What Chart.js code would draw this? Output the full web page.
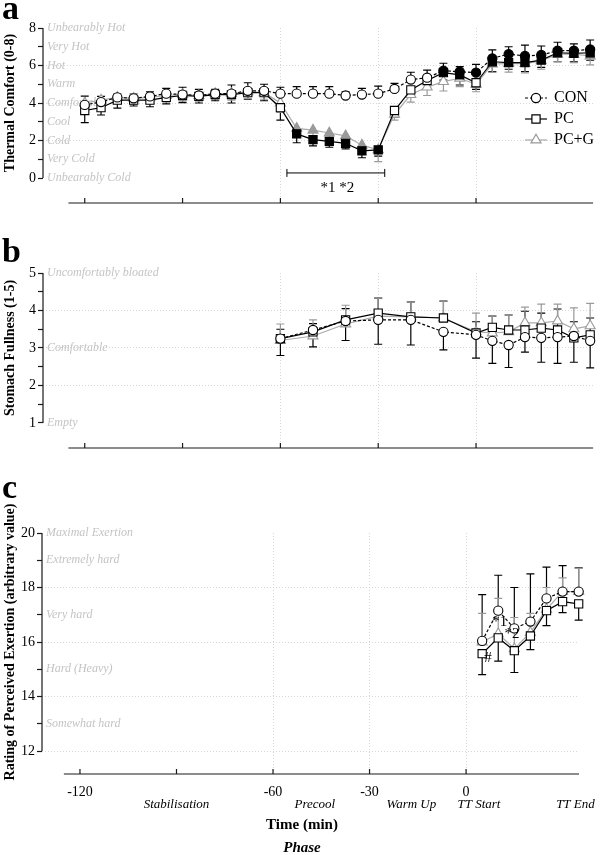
<!DOCTYPE html>
<html>
<head>
<meta charset="utf-8">
<script src="https://cdn.jsdelivr.net/npm/chart.js@4.4.1/dist/chart.umd.min.js"></script>
<style>
  body { margin: 0; background: #fff; }
  #wrap { position: relative; width: 600px; height: 855px; }
  canvas { position: absolute; left: 0; }
</style>
</head>
<body>
<div id="wrap">
  <canvas id="chartA" width="600" height="230" style="top:0px"></canvas>
  <canvas id="chartB" width="600" height="240" style="top:230px"></canvas>
  <canvas id="chartC" width="600" height="385" style="top:470px"></canvas>
</div>
<script>
'use strict';
// data (time in min, relative to TT start)

const seriesNames = ['CON', 'PC', 'PC+G'];

// a) thermal comfort
const timeA = [-120,-115,-110,-105,-100,-95,-90,-85,-80,-75,-70,-65,-60,-55,-50,-45,-40,-35,-30,-25,-20,-15,-10,-5,0,5,10,15,20,25,30,35];
const conComfort = [3.9,4.05,4.3,4.25,4.35,4.5,4.45,4.4,4.5,4.5,4.65,4.65,4.5, 4.5,4.5,4.5,4.4,4.45,4.5,4.75,5.25,5.35,5.72,5.67,5.62, 6.38,6.61,6.51,6.56,6.79,6.79,6.86];
const conComfortSD = [0.47,0.3,0.18,0.23,0.25,0.28,0.39,0.33,0.23,0.46,0.43,0.35,0.34, 0.37,0.37,0.37,0.2,0.33,0.4,0.3,0.39,0.4,0.4,0.27,0.44, 0.45,0.39,0.58,0.48,0.45,0.36,0.5];
const pcComfort = [3.6,3.75,4.15,4.15,4.15,4.3,4.4,4.35,4.45,4.45,4.55,4.55,3.75, 2.35,2.05,1.95,1.85,1.45,1.5,3.6,4.7,5.2,5.62,5.5,5.08, 6.2,6.15,6.15,6.29,6.68,6.65,6.68];
const pcComfortSD = [0.65,0.39,0.42,0.31,0.35,0.35,0.38,0.35,0.33,0.45,0.35,0.43,0.66, 0.47,0.34,0.31,0.3,0.37,0.33,0.36,0.4,0.4,0.4,0.54,0.35, 0.53,0.35,0.48,0.39,0.48,0.45,0.4];
const pcgComfort = [4.0,4.15,4.3,4.25,4.3,4.4,4.45,4.4,4.5,4.5,4.6,4.55,4.0, 2.65,2.55,2.4,2.25,1.75,1.5,3.4,4.45,4.85,5.14,5.32,5.0, 6.08,6.1,6.1,6.25,6.6,6.6,6.51];
const pcgComfortSD = [0.4,0.35,0.3,0.3,0.3,0.35,0.35,0.3,0.3,0.35,0.35,0.35,0.5, 0.4,0.35,0.35,0.35,0.45,0.63,0.31,0.4,0.45,0.5,0.45,0.4, 0.45,0.45,0.5,0.45,0.4,0.45,0.48];
// 1 = significant (filled marker)
const conComfortSig = [0,0,0,0,0,0,0,0,0,0,0,0,0, 0,0,0,0,0,0,0,0,0,1,1,1, 1,1,1,1,1,1,1];
const pcComfortSig  = [0,0,0,0,0,0,0,0,0,0,0,0,0, 1,1,1,1,1,1,0,0,0,1,1,0, 1,1,1,1,1,1,1];
const pcgComfortSig = [0,0,0,0,0,0,0,0,0,0,0,0,0, 1,1,1,1,1,1,0,0,0,0,0,0, 1,1,1,1,1,1,1];
const comfortTicks = [0,1,2,3,4,5,6,7,8];
const comfortWords = ['Unbearably Cold','Very Cold','Cold','Cool','Comfortable','Warm','Hot','Very Hot','Unbearably Hot'];

// b) stomach fullness
const timeB = [-60,-50,-40,-30,-20,-10,0,5,10,15,20,25,30,35];
const conFull = [3.25,3.48,3.72,3.75,3.75,3.43,3.35,3.19,3.08,3.29,3.27,3.29,3.32,3.19];
const conFullSD = [0.45,0.45,0.52,0.65,0.67,0.48,0.62,0.6,0.6,0.4,0.65,0.7,0.7,0.72];
const pcFull = [3.25,3.43,3.75,3.93,3.83,3.8,3.4,3.55,3.48,3.48,3.53,3.48,3.27,3.35];
const pcFullSD = [0.25,0.22,0.3,0.4,0.4,0.45,0.3,0.3,0.4,0.5,0.4,0.56,0.43,0.45];
const pcgFull = [3.2,3.32,3.64,3.85,3.83,3.8,3.43,3.4,3.43,3.67,3.67,3.72,3.51,3.59];
const pcgFullSD = [0.44,0.43,0.5,0.48,0.4,0.45,0.5,0.45,0.45,0.42,0.5,0.45,0.56,0.6];
const fullTicks = [1,1.5,2,2.5,3,3.5,4,4.5,5];
const fullWordVals = [1,3,5];
const fullWords = ['Empty','Comfortable','Uncomfortably bloated'];

// c) RPE
const timeC = [5,10,15,20,25,30,35];
const conRpe = [16.04,17.15,16.5,16.75,17.6,17.85,17.85];
const conRpeSD = [1.7,1.3,1.5,1.75,1.15,0.95,0.87];
const pcRpe = [15.57,16.15,15.68,16.22,17.15,17.48,17.4];
const pcRpeSD = [0.77,0.85,0.8,0.5,0.55,0.4,0.6];
const pcgRpe = [16.0,16.3,15.75,16.35,17.2,17.85,17.85];
const pcgRpeSD = [1.05,1.3,1.15,0.7,0.8,0.5,0.85];
const rpeTicks = [12,13,14,15,16,17,18,19,20];
const rpeWordVals = [13,15,17,19,20];
const rpeWords = ['Somewhat hard','Hard (Heavy)','Very hard','Extremely hard','Maximal Exertion'];

// shared time axis
const timeTicks = [-120,-90,-60,-30,0];
const timeTickText = ['-120','','-60','-30','0'];
const timeGrid = [-60,-30,0];
const phaseNames = ['Stabilisation','Precool','Warm Up','TT Start','TT End'];
const phaseAt = [-90,-47,-17,4,34];

const serif = '"Liberation Serif", "DejaVu Serif", serif';
const greyLine = '#a9a9a9';
const greyMark = '#9a9a9a';
const gridCol = '#d6d6d6';
const clear = 'rgba(0,0,0,0)';

function pts(xs, ys) {
  return xs.map((x, i) => ({ x: x, y: ys[i] }));
}

function makeSets(xs, vals, sds, dirs, sig) {
  sig = sig || [null, null, null];
  const looks = [
    { col: '#000', mark: '#000', style: 'circle', r: 4.6, dash: [3, 2], on: '#000' },
    { col: '#000', mark: '#000', style: 'rect', r: 5.8, dash: [], on: '#000' },
    { col: greyLine, mark: greyMark, style: 'triangle', r: 5.8, dash: [], on: greyMark }
  ];
  return looks.map((lk, k) => ({
    label: seriesNames[k],
    data: pts(xs, vals[k]),
    borderColor: lk.col,
    borderWidth: 1.2,
    borderDash: lk.dash,
    pointStyle: lk.style,
    pointRadius: lk.r,
    pointBorderColor: lk.mark,
    pointBorderWidth: 1.1,
    pointBackgroundColor: sig[k] ? sig[k].map(f => f ? lk.on : '#fff') : '#fff',
    clip: false,
    err: sds[k],
    errDir: dirs[k],
    errColor: k === 2 ? greyMark : '#000'
  }));
}

function drawMark(ctx, style, x, y, r) {
  ctx.beginPath();
  if (style === 'circle') {
    ctx.arc(x, y, r, 0, Math.PI * 2);
  } else if (style === 'rect') {
    const h = r * Math.SQRT1_2;
    ctx.rect(x - h, y - h, 2 * h, 2 * h);
  } else {
    ctx.moveTo(x, y - r);
    ctx.lineTo(x + r * 0.866, y + r * 0.5);
    ctx.lineTo(x - r * 0.866, y + r * 0.5);
    ctx.closePath();
  }
  ctx.fill();
  ctx.stroke();
}

const decor = {
  id: 'decor',
  beforeDatasetsDraw(chart, args, o) {
    const ctx = chart.ctx, y = chart.scales.y, area = chart.chartArea;
    ctx.save();
    ctx.font = 'italic 12px ' + serif;
    ctx.fillStyle = '#c4c4c4';
    ctx.textAlign = 'left';
    ctx.textBaseline = 'middle';
    o.wordVals.forEach((v, i) => ctx.fillText(o.words[i], area.left + 4, y.getPixelForValue(v)));

    chart.data.datasets.forEach((ds, i) => {
      const meta = chart.getDatasetMeta(i);
      ctx.strokeStyle = ds.errColor;
      ctx.lineWidth = 1.2;
      meta.data.forEach((p, j) => {
        const end = y.getPixelForValue(ds.data[j].y + ds.errDir * ds.err[j]);
        ctx.beginPath();
        ctx.moveTo(p.x, p.y);
        ctx.lineTo(p.x, end);
        ctx.moveTo(p.x - 4, end);
        ctx.lineTo(p.x + 4, end);
        ctx.stroke();
      });
    });
    ctx.restore();
  },
  afterDraw(chart, args, o) {
    const ctx = chart.ctx, x = chart.scales.x, y = chart.scales.y, area = chart.chartArea;
    ctx.save();
    ctx.strokeStyle = '#1a1a1a';
    ctx.lineWidth = 1.2;
    ctx.beginPath();
    ctx.moveTo(area.left, y.getPixelForValue(o.yRange[1]));
    ctx.lineTo(area.left, y.getPixelForValue(o.yRange[0]));
    ctx.moveTo(x.getPixelForValue(o.xStart), area.bottom);
    ctx.lineTo(area.right, area.bottom);
    timeTicks.forEach(t => {
      const px = x.getPixelForValue(t);
      ctx.moveTo(px, area.bottom);
      ctx.lineTo(px, area.bottom - 5);
    });
    ctx.stroke();

    // panel letter
    ctx.fillStyle = '#000';
    ctx.font = 'bold 34px ' + serif;
    ctx.textAlign = 'left';
    ctx.textBaseline = 'alphabetic';
    ctx.fillText(o.letter, 2, o.letterY);

    // y title, centred on the labelled range
    ctx.save();
    const mid = (y.getPixelForValue(o.yRange[0]) + y.getPixelForValue(o.yRange[1])) / 2;
    ctx.translate(o.titleX, mid);
    ctx.rotate(-Math.PI / 2);
    ctx.font = 'bold ' + o.titleSize + 'px ' + serif;
    ctx.textAlign = 'center';
    ctx.textBaseline = 'middle';
    ctx.fillText(o.title, 0, 0);
    ctx.restore();

    // notes
    ctx.font = '15px ' + serif;
    ctx.textAlign = 'center';
    ctx.textBaseline = 'middle';
    (o.notes || []).forEach(n => ctx.fillText(n.text, x.getPixelForValue(n.x), y.getPixelForValue(n.y)));
    if (o.bracket) {
      const b = o.bracket;
      const x1 = x.getPixelForValue(b.from), x2 = x.getPixelForValue(b.to), by = y.getPixelForValue(b.at);
      ctx.lineWidth = 1;
      ctx.strokeStyle = '#000';
      ctx.beginPath();
      ctx.moveTo(x1, by); ctx.lineTo(x2, by);
      ctx.moveTo(x1, by - 4); ctx.lineTo(x1, by + 4);
      ctx.moveTo(x2, by - 4); ctx.lineTo(x2, by + 4);
      ctx.stroke();
    }

    // legend
    if (o.legend) {
      const L = o.legend;
      chart.data.datasets.forEach((ds, i) => {
        const ly = L.y + i * L.gap;
        ctx.strokeStyle = ds.borderColor;
        ctx.lineWidth = 1.2;
        ctx.setLineDash(ds.borderDash);
        ctx.beginPath();
        ctx.moveTo(L.x, ly); ctx.lineTo(L.x + L.len, ly);
        ctx.stroke();
        ctx.setLineDash([]);
        ctx.fillStyle = '#fff';
        ctx.strokeStyle = ds.pointBorderColor;
        drawMark(ctx, ds.pointStyle, L.x + L.len / 2, ly, ds.pointRadius);
        ctx.fillStyle = '#000';
        ctx.font = '16px ' + serif;
        ctx.textAlign = 'left';
        ctx.fillText(ds.label, L.x + L.len + 7, ly);
      });
    }

    // phase row and x titles
    if (o.phases) {
      ctx.fillStyle = '#000';
      ctx.textAlign = 'center';
      ctx.textBaseline = 'middle';
      ctx.font = 'italic 13px ' + serif;
      phaseNames.forEach((p, i) => ctx.fillText(p, x.getPixelForValue(phaseAt[i]), area.bottom + 31));
      ctx.font = 'bold 15px ' + serif;
      ctx.fillText('Time (min)', o.phases.cx, area.bottom + 51);
      ctx.font = 'bold italic 15px ' + serif;
      ctx.fillText('Phase', o.phases.cx, area.bottom + 74);
    }
    ctx.restore();
  }
};

function buildScales(p) {
  return {
    x: {
      type: 'linear',
      min: p.xMin,
      max: p.xMax,
      afterBuildTicks: s => { s.ticks = timeTicks.map(v => ({ value: v })); },
      afterFit: s => { s.height = p.xHeight; },
      grid: {
        drawTicks: false,
        lineWidth: 1,
        color: c => (c.tick && timeGrid.includes(c.tick.value)) ? gridCol : clear
      },
      border: { display: false, dash: [1, 2] },
      ticks: {
        display: p.xLabels,
        autoSkip: false,
        maxRotation: 0,
        padding: 10,
        color: '#000',
        font: { family: serif, size: 14 },
        callback: v => timeTickText[timeTicks.indexOf(v)]
      }
    },
    y: {
      type: 'linear',
      min: p.yMin,
      max: p.yMax,
      afterBuildTicks: s => { s.ticks = p.yTicks.map(v => ({ value: v })); },
      afterFit: s => { s.width = p.yWidth; },
      grid: {
        tickLength: 5,
        tickColor: '#1a1a1a',
        tickWidth: 1.2,
        lineWidth: 1,
        color: c => (c.tick && p.yGrid.includes(c.tick.value)) ? gridCol : clear
      },
      border: { display: false, dash: [1, 2] },
      ticks: {
        autoSkip: false,
        padding: 2,
        color: '#000',
        font: { family: serif, size: 14 },
        callback: v => p.yLabelled.includes(v) ? String(v) : ''
      }
    }
  };
}

function commonOpts(pad, scales, dec) {
  return {
    responsive: false,
    animation: false,
    events: [],
    layout: { padding: pad },
    scales: scales,
    plugins: { legend: { display: false }, tooltip: { enabled: false }, decor: dec }
  };
}

// panel a
new Chart(document.getElementById('chartA'), {
  type: 'line',
  data: { datasets: makeSets(timeA,
    [conComfort, pcComfort, pcgComfort],
    [conComfortSD, pcComfortSD, pcgComfortSD],
    [1, -1, -1],
    [conComfortSig, pcComfortSig, pcgComfortSig]) },
  options: commonOpts({ left: 0, right: 3, top: 28, bottom: 27 },
    buildScales({ xMin: -132.8, xMax: 35.9, xHeight: 0, xLabels: false,
      yMin: -1.333, yMax: 8, yTicks: comfortTicks, yGrid: [2, 4, 6], yLabelled: [0, 2, 4, 6, 8], yWidth: 43 }),
    { letter: 'a', letterY: 19, title: 'Thermal Comfort (0-8)', titleSize: 14, titleX: 10,
      yRange: [0, 8], xStart: -125, wordVals: comfortTicks, words: comfortWords,
      bracket: { from: -58, to: -28, at: 0.27 },
      notes: [{ text: '*1 *2', x: -42.5, y: -0.53 }],
      legend: { x: 525, y: 98, gap: 21, len: 22 } }),
  plugins: [decor]
});

// panel b
new Chart(document.getElementById('chartB'), {
  type: 'line',
  data: { datasets: makeSets(timeB,
    [conFull, pcFull, pcgFull],
    [conFullSD, pcFullSD, pcgFullSD],
    [-1, 1, 1]) },
  options: commonOpts({ left: 0, right: 3, top: 43, bottom: 22 },
    buildScales({ xMin: -132.8, xMax: 35.9, xHeight: 0, xLabels: false,
      yMin: 0.333, yMax: 5, yTicks: fullTicks, yGrid: [2, 3, 4], yLabelled: [1, 2, 3, 4, 5], yWidth: 43 }),
    { letter: 'b', letterY: 32, title: 'Stomach Fullness (1-5)', titleSize: 14, titleX: 10,
      yRange: [1, 5], xStart: -125, wordVals: fullWordVals, words: fullWords }),
  plugins: [decor]
});

// panel c
new Chart(document.getElementById('chartC'), {
  type: 'line',
  data: { datasets: makeSets(timeC,
    [conRpe, pcRpe, pcgRpe],
    [conRpeSD, pcRpeSD, pcgRpeSD],
    [1, -1, 1]) },
  options: commonOpts({ left: 0, right: 21, top: 63, bottom: 0 },
    buildScales({ xMin: -131.8, xMax: 35.1, xHeight: 81, xLabels: true,
      yMin: 11.156, yMax: 20, yTicks: rpeTicks, yGrid: [12, 14, 16, 18], yLabelled: [12, 14, 16, 18, 20], yWidth: 42 }),
    { letter: 'c', letterY: 28, title: 'Rating of Perceived Exertion (arbitrary value)', titleSize: 14, titleX: 10,
      yRange: [12, 20], xStart: -125, wordVals: rpeWordVals, words: rpeWords,
      notes: [{ text: '*1', x: 10.5, y: 16.73 }, { text: '*2', x: 14.3, y: 16.3 }, { text: '#', x: 6.8, y: 15.4 }],
      phases: { cx: 302 } }),
  plugins: [decor]
});
</script>
</body>
</html>
